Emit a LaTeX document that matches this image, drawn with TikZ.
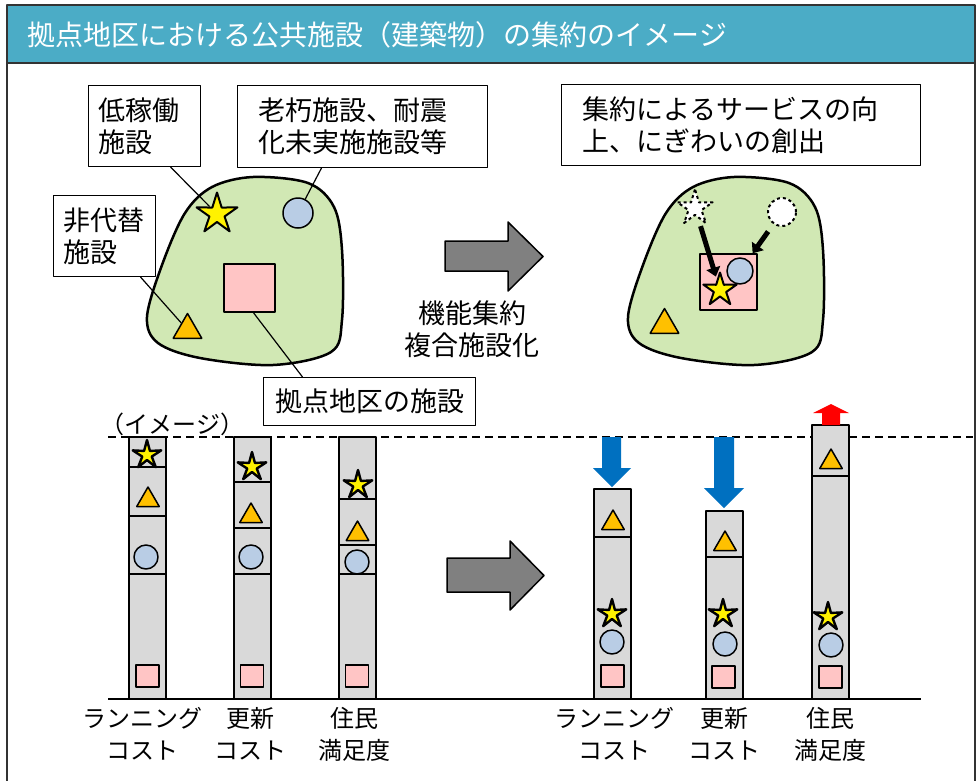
\documentclass[tikz,border=0pt]{standalone}
\usepackage{fontspec}
\setmainfont{Noto Sans CJK JP}
\usetikzlibrary{arrows.meta,shapes.geometric}

\definecolor{titleband}{HTML}{4BACC6}
\definecolor{areagreen}{HTML}{D1E8B4}
\definecolor{facblue}{HTML}{B9CDE5}
\definecolor{facpink}{HTML}{FFC5C5}
\definecolor{facorange}{HTML}{FFC000}
\definecolor{barfill}{HTML}{D9D9D9}
\definecolor{downblue}{HTML}{0070C0}

\begin{document}
\begin{tikzpicture}[x=1pt, y=-1pt, line join=round,
    every node/.append style={font=\fontsize{27}{32}\selectfont},
    fstar/.style={star, star points=5, star point ratio=2.7, draw, line width=2pt,
      fill=yellow, minimum size=43pt, inner sep=0pt},
    fcirc/.style={circle, draw, line width=1.5pt, fill=facblue, minimum size=30pt, inner sep=0pt},
    ftri/.style={regular polygon, regular polygon sides=3, draw, line width=1.5pt,
      fill=facorange, minimum size=33pt, inner sep=0pt},
    fsq/.style={rectangle, draw, line width=1.5pt, fill=facpink, inner sep=0pt},
    callout/.style={draw, line width=1pt, fill=white, align=left, anchor=north west},
    bar/.style={draw, line width=2pt, fill=barfill},
    axis/.style={font=\fontsize{24}{32}\selectfont, align=center}]
  \tikzstyle{sstar} = [fstar, minimum size=30pt, star point ratio=3, line width=2.4pt]
  \tikzstyle{scirc} = [fcirc, minimum size=24pt]
  \tikzstyle{stri} = [ftri, minimum size=26pt]
  \tikzstyle{ssq} = [fsq, minimum width=23pt, minimum height=22pt]
  \useasboundingbox (0,0) rectangle (977,780);

  % frame and title
  \fill[titleband] (7,5) rectangle (975,63);
  \draw[line width=1.5pt, black!80] (7,795) -- (7,5) -- (975,5) -- (975,795);
  \draw[line width=1.5pt, black!80] (7,63) -- (975,63);
  \node[anchor=west, text=white, font=\fontsize{28}{32}\selectfont] (title) at (24,35)
    {拠点地区における公共施設（建築物）の集約のイメージ};

  % area before and after
  \foreach \dx in {0,481}
    \draw[line width=2.5pt, fill=areagreen, xshift=\dx pt] plot[smooth cycle, tension=0.55] coordinates
      {(253,177) (308,183) (334,207) (342,250) (342,320) (331,352) (273,365)
       (200,358) (158,343) (147,317) (162,265) (185,213) (212,187)};

  \node[fstar] (lstar) at (217,214) {};
  \node[fcirc] (lcirc) at (298,213) {};
  \node[fsq, minimum width=51pt, minimum height=48pt] (lsq) at (249.5,288) {};
  \node[ftri] (ltri) at (187.5,330) {};

  \node[callout, text width=92pt, inner xsep=10pt, minimum height=81pt] (lowuse) at (88,85) {低稼働\\施設};
  \node[callout, text width=208pt, inner xsep=21pt, minimum height=82pt] (aging) at (237,85) {老朽施設、耐震\\化未実施施設等};
  \node[callout, text width=82pt, inner xsep=10pt, minimum height=81pt] (nonsub) at (53,195) {非代替\\施設};
  \node[callout, align=center, minimum width=212pt, minimum height=48pt] (hubfac) at (263,377) {拠点地区の施設};

  \draw[line width=1.2pt] ([xshift=26pt]lowuse.south) -- (lstar);
  \draw[line width=1.2pt] ([xshift=-41pt]aging.south) -- (lcirc);
  \draw[line width=1.2pt] ([xshift=36pt]nonsub.south) -- (ltri);
  \draw[line width=1.2pt] ([xshift=4pt]lsq.south) -- ([xshift=-67pt]hubfac.north);

  % gathering
  \draw[line width=1.5pt, fill=gray] (445,241) -- (508,241) -- (508,222) -- (543,256.5)
    -- (508,291) -- (508,271) -- (445,271) -- cycle;
  \node[align=center] (merge) at (472,329) {機能集約\\複合施設化};

  \node[callout, text width=317pt, inner xsep=21pt, minimum height=81pt] (service) at (561,84)
    {集約によるサービスの向\\上、にぎわいの創出};

  \node[fstar, fill=white, dashed, minimum size=37pt] (dstar) at (695,208) {};
  \node[fcirc, fill=white, dashed, line width=2pt, minimum size=28pt] (dcirc) at (782,212) {};
  \node[fsq, minimum width=57pt, minimum height=56pt] (rsq) at (728.5,282) {};
  \node[fcirc, minimum size=26pt] (rcirc) at (740,271) {};
  \node[fstar, minimum size=35pt] (rstar) at (720,290) {};
  \node[ftri] (rtri) at (664.5,325) {};

  \draw[line width=5pt, -{Triangle[length=9pt, width=14pt]}, shorten <=8pt, shorten >=3pt] (dstar) -- (rstar);
  \draw[line width=5pt, -{Triangle[length=9pt, width=14pt]}, shorten <=9pt, shorten >=8pt] (dcirc) -- (rcirc);

  % bars
  \draw[line width=1.5pt, dashed, dash pattern=on 8pt off 5pt] (108,437) -- (973,437);
  \node[anchor=west, font=\fontsize{24}{28}\selectfont] (image) at (97,424) {（イメージ）};

  \foreach \bx/\btop in {129/437, 234/437, 339/437, 594/489, 706/511, 812/425}
    \draw[bar] (\bx,\btop) rectangle ({\bx+36.5},699);
  \foreach \bx/\dy in {129/467, 129/516, 129/574, 234/482, 234/528, 234/574,
                       339/499, 339/545, 339/574, 594/537, 706/557, 812/476}
    \draw[line width=2pt] (\bx,\dy) -- ++(36.5,0);
  \draw[line width=2pt] (108,699) -- (921,699);

  \foreach \i/\sx/\sy in {1/147/455, 2/252/467, 3/358/485, 4/612/614, 5/723/614, 6/828/617}
    \node[sstar] (bstar\i) at (\sx,\sy) {};
  \foreach \i/\sx/\sy in {1/148/500, 2/251/516, 3/357.5/534, 4/613/523, 5/725/544, 6/831/462}
    \node[stri] (btri\i) at (\sx,\sy) {};
  \foreach \i/\sx/\sy in {1/146/557, 2/251/557, 3/357/562, 4/612/642, 5/725/644, 6/831/645}
    \node[scirc] (bcirc\i) at (\sx,\sy) {};
  \foreach \i/\sx/\sy in {1/147.5/676, 2/252/676, 3/357/676, 4/612.5/676, 5/723.5/677, 6/830.5/677}
    \node[ssq] (bsq\i) at (\sx,\sy) {};

  \draw[line width=1.5pt, fill=gray] (447,558) -- (510,558) -- (510,541) -- (544,575.5)
    -- (510,610) -- (510,592) -- (447,592) -- cycle;

  \fill[downblue] (602,437) -- (621,437) -- (621,468) -- (631,468) -- (612,487)
    -- (593,468) -- (602,468) -- cycle;
  \fill[downblue] (714,437) -- (734,437) -- (734,488) -- (744,488) -- (724,508)
    -- (704,488) -- (714,488) -- cycle;
  \fill[red] (822,425) -- (840,425) -- (840,413) -- (849,413) -- (831,404)
    -- (813,413) -- (822,413) -- cycle;

  \node[axis] (run1) at (142,734) {ランニング\\コスト};
  \node[axis] (renew1) at (250,734) {更新\\コスト};
  \node[axis] (satis1) at (354,734) {住民\\満足度};
  \node[axis] (run2) at (614,734) {ランニング\\コスト};
  \node[axis] (renew2) at (724,734) {更新\\コスト};
  \node[axis] (satis2) at (830,734) {住民\\満足度};
\end{tikzpicture}
\end{document}
